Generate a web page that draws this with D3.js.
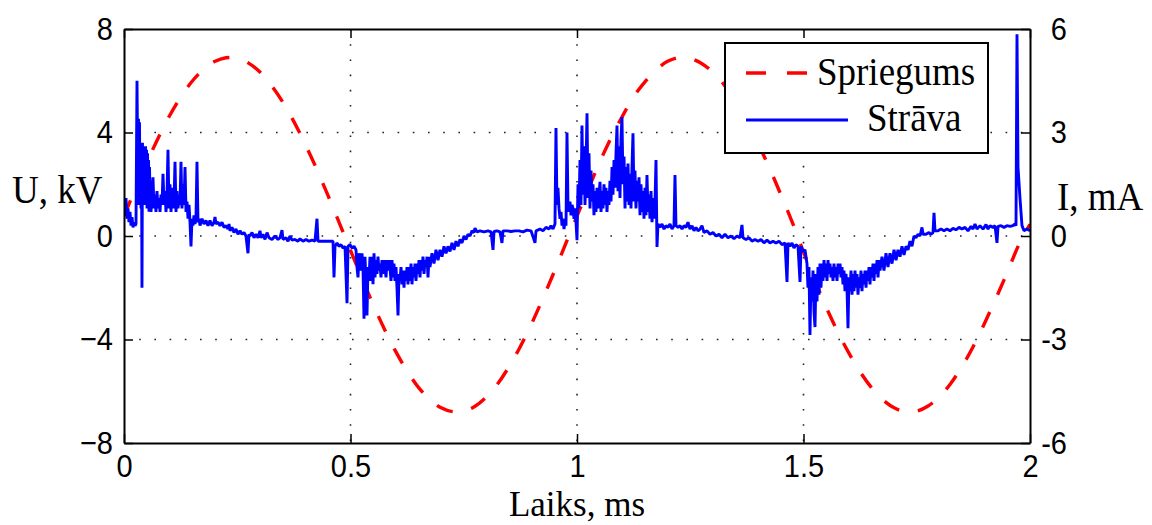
<!DOCTYPE html>
<html><head><meta charset="utf-8">
<script src="https://cdn.jsdelivr.net/npm/d3@7"></script>
<style>body{margin:0;background:#fff}svg{display:block}</style>
</head><body><svg id="c" width="1152" height="525"></svg>
<script>
// ---- data ----
const timeTicks = [0, 0.5, 1, 1.5, 2];
const voltageTicks = [-8, -4, 0, 4, 8];
const currentTicks = [-6, -3, 0, 3, 6];
const seriesNames = ["Spriegums", "Strāva"];
const xTitle = "Laiks, ms";
const leftTitle = "U, kV";
const rightTitle = "I, mA";

// voltage (kV) sampled every 0.025 ms
const voltageTime = [0,0.025,0.05,0.075,0.1,0.125,0.15,0.175,0.2,0.225,0.25,0.275,0.3,0.325,0.35,0.375,0.4,0.425,0.45,0.475,
0.5,0.525,0.55,0.575,0.6,0.625,0.65,0.675,0.7,0.725,0.75,0.775,0.8,0.825,0.85,0.875,0.9,0.925,0.95,0.975,
1.0,1.025,1.05,1.075,1.1,1.125,1.15,1.175,1.2,1.225,1.25,1.275,1.3,1.325,1.35,1.375,1.4,1.425,1.45,1.475,
1.5,1.525,1.55,1.575,1.6,1.625,1.65,1.675,1.7,1.725,1.75,1.775,1.8,1.825,1.85,1.875,1.9,1.925,1.95,1.975,2.0];
const voltageKV = [0.77,1.82,2.83,3.77,4.63,5.36,5.97,6.43,6.74,6.89,6.87,6.68,6.34,5.83,5.19,4.42,3.55,2.6,1.58,0.52,
-0.56,-1.62,-2.65,-3.6,-4.47,-5.22,-5.85,-6.32,-6.64,-6.79,-6.77,-6.58,-6.22,-5.71,-5.05,-4.27,-3.38,-2.4,-1.37,-0.3,
0.77,1.82,2.85,3.78,4.62,5.38,5.96,6.42,6.75,6.9,6.86,6.67,6.33,5.84,5.2,4.43,3.56,2.62,1.6,0.54,
-0.62,-1.7,-2.75,-3.68,-4.52,-5.25,-5.86,-6.33,-6.64,-6.79,-6.77,-6.57,-6.21,-5.7,-5.04,-4.26,-3.36,-2.4,-1.4,-0.35,0.45];

// current samples: [time ms, current mA]
const currentSamples = [
[0,1.0],[0.0022,0.6],[0.0044,1.1],[0.0066,0.5],[0.0088,0.8],[0.0110,0.4],[0.0132,0.7],[0.0155,0.3],[0.0177,0.55],[0.0199,0.25],
[0.0221,0.4],[0.0243,0.3],[0.0265,0.35],[0.0287,4.5],[0.0309,1.2],[0.0320,3.4],[0.0331,0.9],[0.0342,3.3],[0.0353,1.2],[0.0364,2.6],
[0.0375,0.8],[0.0386,2.5],[0.0397,-1.5],[0.0408,2.7],[0.0419,1.0],[0.0430,2.6],[0.0442,1.1],[0.0453,2.5],[0.0464,0.9],[0.0475,2.6],
[0.0486,1.2],[0.0497,2.5],[0.0508,0.8],[0.0519,2.4],[0.0530,1.0],[0.0541,2.2],[0.0552,0.7],[0.0563,2.0],[0.0574,1.2],[0.0596,0.7],
[0.0618,1.3],[0.0640,1.7],[0.0662,0.8],[0.0684,1.2],[0.0706,0.7],[0.0728,1.3],[0.0751,0.8],[0.0773,1.1],[0.0795,0.7],[0.0817,1.2],
[0.0839,0.9],[0.0861,1.8],[0.0883,0.9],[0.0905,1.3],[0.0927,0.7],[0.0949,1.2],[0.0971,2.5],[0.0993,0.8],[0.1015,1.5],[0.1038,0.7],
[0.1060,1.4],[0.1082,0.8],[0.1104,1.0],[0.1126,2.15],[0.1148,0.7],[0.1170,1.3],[0.1192,0.8],[0.1214,1.1],[0.1236,0.9],[0.1258,2.15],
[0.1280,0.8],[0.1302,1.5],[0.1325,0.9],[0.1347,2.0],[0.1369,0.7],[0.1391,1.0],[0.1413,0.5],[0.1435,0.9],[0.1457,0.4],[0.1479,-0.3],
[0.1501,0.5],[0.1523,0.3],[0.1545,0.6],[0.1567,0.35],[0.1589,0.5],[0.1611,2.15],[0.1634,0.4],[0.1656,0.5],[0.1678,0.3],[0.1722,0.5],
[0.1766,0.35],[0.1810,0.45],[0.1854,0.3],[0.1898,0.45],[0.1943,0.3],[0.1987,0.4],[0.2009,0.55],[0.2031,0.35],[0.2075,0.4],[0.2119,0.3],
[0.2163,0.4],[0.2208,0.25],[0.2252,0.3],[0.2296,0.2],[0.2318,0.35],[0.2340,0.15],[0.2384,0.25],[0.2428,0.1],[0.2472,0.2],[0.2517,0.05],
[0.2561,0.15],[0.2605,0.05],[0.2649,0.1],[0.2693,0.0],[0.2737,-0.5],[0.2759,0.05],[0.2781,0.0],[0.2826,0.1],[0.2870,-0.05],[0.2914,0.05],
[0.2958,-0.05],[0.3002,0.15],[0.3024,-0.05],[0.3068,0.05],[0.3113,-0.1],[0.3157,0.1],[0.3201,-0.05],[0.3267,-0.1],[0.3333,0.0],[0.3400,-0.1],
[0.3444,-0.05],[0.3488,0.17],[0.3510,-0.1],[0.3576,-0.05],[0.3620,-0.15],[0.3664,0.0],[0.3709,-0.12],[0.3775,-0.1],[0.3841,-0.15],[0.3885,-0.08],
[0.3951,-0.15],[0.4018,-0.1],[0.4084,-0.15],[0.4150,-0.12],[0.4216,-0.15],[0.4260,0.5],[0.4283,-0.15],[0.4371,-0.15],[0.4459,-0.15],[0.4547,-0.15],
[0.4614,-0.15],[0.4636,-1.2],[0.4658,-0.3],[0.4702,-0.2],[0.4746,-0.3],[0.4790,-0.25],[0.4834,-0.35],[0.4879,-0.3],[0.4923,-1.95],[0.4945,-0.3],
[0.4989,-0.25],[0.5033,-0.35],[0.5077,-0.3],[0.5121,-0.4],[0.5143,-0.9],[0.5166,-1.2],[0.5188,-0.5],[0.5210,-0.7],[0.5232,-1.0],[0.5254,-0.5],
[0.5276,-0.9],[0.5298,-2.4],[0.5320,-0.6],[0.5342,-1.4],[0.5364,-2.3],[0.5386,-0.9],[0.5408,-1.3],[0.5430,-0.6],[0.5453,-1.3],[0.5475,-0.6],
[0.5497,-1.4],[0.5519,-0.5],[0.5541,-1.2],[0.5563,-0.7],[0.5585,-1.1],[0.5607,-0.6],[0.5629,-1.0],[0.5651,-0.8],[0.5673,-1.2],[0.5695,-0.7],
[0.5717,-1.1],[0.5740,-0.7],[0.5762,-0.9],[0.5784,-1.2],[0.5806,-0.7],[0.5828,-1.0],[0.5850,-0.7],[0.5872,-0.9],[0.5894,-1.3],[0.5916,-0.7],
[0.5938,-1.2],[0.5960,-0.8],[0.5982,-1.3],[0.6004,-0.9],[0.6026,-1.5],[0.6049,-2.3],[0.6071,-1.1],[0.6093,-1.3],[0.6115,-0.9],[0.6137,-1.4],
[0.6159,-1.0],[0.6181,-1.5],[0.6203,-1.0],[0.6225,-1.3],[0.6247,-0.9],[0.6269,-1.4],[0.6291,-0.9],[0.6313,-1.3],[0.6336,-0.8],[0.6358,-1.4],
[0.6380,-0.9],[0.6402,-1.2],[0.6424,-0.8],[0.6446,-1.3],[0.6468,-0.8],[0.6490,-1.1],[0.6512,-0.7],[0.6534,-1.2],[0.6556,-0.7],[0.6578,-1.0],
[0.6600,-0.6],[0.6623,-1.1],[0.6645,-0.7],[0.6667,-0.9],[0.6689,-0.6],[0.6711,-1.2],[0.6733,-0.6],[0.6755,-0.9],[0.6799,-0.5],[0.6843,-0.8],
[0.6887,-0.4],[0.6932,-0.7],[0.6976,-0.4],[0.7020,-0.6],[0.7064,-0.3],[0.7108,-0.5],[0.7152,-0.3],[0.7196,-0.45],[0.7241,-0.2],[0.7285,-0.4],
[0.7329,-0.15],[0.7373,-0.3],[0.7417,-0.1],[0.7461,-0.2],[0.7506,0.0],[0.7550,-0.1],[0.7594,0.05],[0.7638,0.0],[0.7682,0.15],[0.7726,0.1],
[0.7748,0.23],[0.7792,0.12],[0.7859,0.15],[0.7947,0.12],[0.8035,0.15],[0.8102,0.12],[0.8146,-0.4],[0.8168,0.13],[0.8234,0.15],[0.8300,0.12],
[0.8344,-0.2],[0.8366,0.15],[0.8455,0.15],[0.8543,0.13],[0.8631,0.15],[0.8720,0.15],[0.8808,0.12],[0.8896,0.17],[0.8985,0.15],[0.9073,-0.2],
[0.9095,0.15],[0.9183,0.2],[0.9249,0.15],[0.9316,0.25],[0.9382,0.2],[0.9426,0.3],[0.9470,0.2],[0.9514,0.35],[0.9536,3.13],[0.9558,0.9],
[0.9580,1.4],[0.9603,0.8],[0.9625,0.5],[0.9647,0.7],[0.9669,0.3],[0.9691,0.5],[0.9713,0.2],[0.9735,0.4],[0.9757,0.3],[0.9779,3.0],
[0.9801,0.9],[0.9823,0.7],[0.9845,1.0],[0.9868,0.6],[0.9890,0.9],[0.9912,0.8],[0.9934,0.5],[0.9956,0.8],[0.9978,0.4],[1.0000,-0.12],
[1.0022,1.5],[1.0044,0.8],[1.0066,2.2],[1.0088,0.9],[1.0110,3.2],[1.0132,1.2],[1.0155,2.6],[1.0177,0.9],[1.0199,2.0],[1.0221,3.56],
[1.0243,1.1],[1.0265,2.4],[1.0287,0.8],[1.0309,1.9],[1.0331,1.0],[1.0353,1.5],[1.0375,0.6],[1.0397,1.3],[1.0419,0.7],[1.0442,1.4],
[1.0464,0.8],[1.0486,1.2],[1.0508,1.57],[1.0530,0.7],[1.0552,1.3],[1.0574,0.8],[1.0596,1.5],[1.0618,0.9],[1.0640,1.4],[1.0662,0.7],
[1.0684,1.3],[1.0706,0.9],[1.0728,1.6],[1.0751,1.0],[1.0773,2.0],[1.0795,1.2],[1.0817,2.2],[1.0839,1.4],[1.0861,2.4],[1.0883,3.2],
[1.0905,1.3],[1.0927,2.6],[1.0949,1.1],[1.0971,2.8],[1.0993,3.45],[1.1015,1.5],[1.1038,2.3],[1.1060,0.8],[1.1082,2.0],[1.1104,1.0],
[1.1126,2.1],[1.1148,0.9],[1.1170,1.8],[1.1192,0.8],[1.1214,2.0],[1.1236,2.98],[1.1258,1.0],[1.1280,1.9],[1.1302,0.8],[1.1325,1.6],
[1.1347,1.0],[1.1369,1.7],[1.1391,0.6],[1.1413,1.5],[1.1435,0.7],[1.1457,1.3],[1.1479,0.5],[1.1501,1.4],[1.1523,0.6],[1.1545,1.77],
[1.1567,0.7],[1.1589,1.2],[1.1611,0.5],[1.1634,1.3],[1.1656,0.4],[1.1678,1.1],[1.1700,0.5],[1.1722,1.0],[1.1744,2.2],[1.1766,-0.32],
[1.1788,0.35],[1.1832,0.25],[1.1876,0.35],[1.1921,0.2],[1.1965,0.3],[1.2009,0.25],[1.2053,0.35],[1.2097,0.2],[1.2141,0.3],[1.2163,1.77],
[1.2185,0.3],[1.2230,0.25],[1.2274,0.3],[1.2318,0.2],[1.2362,0.3],[1.2406,0.25],[1.2450,0.4],[1.2494,0.2],[1.2539,0.3],[1.2583,0.15],
[1.2627,0.25],[1.2671,0.15],[1.2715,0.2],[1.2759,0.3],[1.2804,0.1],[1.2870,0.15],[1.2936,0.05],[1.3002,0.1],[1.3068,0.0],[1.3135,0.05],
[1.3201,-0.05],[1.3267,0.05],[1.3333,-0.05],[1.3400,0.0],[1.3466,-0.08],[1.3532,0.0],[1.3598,-0.05],[1.3642,0.32],[1.3664,-0.05],[1.3731,-0.1],
[1.3797,-0.05],[1.3863,-0.15],[1.3929,-0.1],[1.3996,-0.15],[1.4062,-0.1],[1.4128,-0.2],[1.4194,-0.12],[1.4260,-0.2],[1.4327,-0.15],[1.4393,-0.2],
[1.4459,-0.15],[1.4525,-0.25],[1.4592,-0.2],[1.4636,-1.33],[1.4658,-0.2],[1.4702,-0.3],[1.4746,-0.2],[1.4790,-0.35],[1.4834,-0.25],[1.4879,-0.3],
[1.4923,-1.33],[1.4945,-0.3],[1.4989,-0.45],[1.5033,-0.4],[1.5077,-0.8],[1.5099,-1.5],[1.5121,-0.9],[1.5143,-2.87],[1.5166,-1.2],[1.5188,-1.9],
[1.5210,-1.0],[1.5232,-2.2],[1.5254,-2.64],[1.5276,-1.1],[1.5298,-1.9],[1.5320,-0.9],[1.5342,-1.7],[1.5364,-0.8],[1.5386,-1.5],[1.5408,-0.8],
[1.5430,-1.3],[1.5453,-0.7],[1.5475,-1.2],[1.5497,-0.8],[1.5519,-1.3],[1.5541,-0.7],[1.5563,-1.1],[1.5585,-0.8],[1.5607,-1.2],[1.5629,-0.9],
[1.5651,-1.3],[1.5673,-0.8],[1.5695,-1.2],[1.5717,-0.9],[1.5740,-1.3],[1.5762,-0.8],[1.5784,-1.1],[1.5806,-0.8],[1.5828,-1.2],[1.5850,-0.9],
[1.5872,-1.4],[1.5894,-1.0],[1.5916,-1.6],[1.5938,-1.1],[1.5960,-1.5],[1.5982,-2.67],[1.6004,-1.2],[1.6026,-1.6],[1.6049,-1.0],[1.6071,-1.7],
[1.6093,-1.1],[1.6115,-1.6],[1.6137,-1.0],[1.6159,-1.5],[1.6181,-1.1],[1.6203,-1.7],[1.6225,-1.2],[1.6247,-1.5],[1.6269,-1.0],[1.6291,-1.6],
[1.6313,-1.1],[1.6336,-1.4],[1.6358,-1.0],[1.6380,-1.5],[1.6402,-1.0],[1.6424,-1.3],[1.6446,-0.9],[1.6468,-1.4],[1.6490,-0.9],[1.6512,-1.2],
[1.6534,-0.8],[1.6556,-1.3],[1.6578,-0.8],[1.6600,-1.1],[1.6623,-0.7],[1.6645,-1.2],[1.6667,-0.7],[1.6689,-1.0],[1.6733,-0.6],[1.6777,-1.0],
[1.6821,-0.5],[1.6865,-0.9],[1.6909,-0.5],[1.6954,-0.8],[1.6998,-0.4],[1.7042,-0.7],[1.7086,-0.4],[1.7130,-0.6],[1.7174,-0.3],[1.7219,-0.55],
[1.7263,-0.3],[1.7307,-0.4],[1.7351,-0.15],[1.7395,-0.3],[1.7439,0.0],[1.7483,-0.05],[1.7528,0.05],[1.7572,0.0],[1.7616,0.25],[1.7638,0.05],
[1.7704,0.05],[1.7770,0.1],[1.7815,0.05],[1.7859,0.1],[1.7881,0.67],[1.7903,0.15],[1.7969,0.15],[1.8035,0.2],[1.8102,0.15],[1.8168,0.2],
[1.8234,0.15],[1.8300,0.22],[1.8366,0.18],[1.8433,0.25],[1.8499,0.2],[1.8565,0.25],[1.8631,0.15],[1.8698,0.28],[1.8742,0.2],[1.8786,0.35],
[1.8830,0.2],[1.8896,0.3],[1.8962,0.2],[1.9029,0.33],[1.9073,0.2],[1.9117,0.3],[1.9183,0.25],[1.9227,0.3],[1.9271,-0.2],[1.9294,0.28],
[1.9360,0.3],[1.9426,0.25],[1.9492,0.3],[1.9558,0.28],[1.9625,0.3],[1.9669,0.35],[1.9691,0.3],[1.9713,5.85],[1.9735,2.0],[1.9779,1.1],
[1.9823,0.3],[1.9868,0.15],[1.9934,0.2],[2.0000,0.15]
];

// ---- drawing ----
const W = 1152, H = 525;
const m = {l:124, r:1030, t:29, b:443};
const svg = d3.select("#c");
const x = d3.scaleLinear().domain([0, 2]).range([m.l, m.r]);
const yU = d3.scaleLinear().domain([-8, 8]).range([m.b, m.t]);
const yI = d3.scaleLinear().domain([-6, 6]).range([m.b, m.t]);
const SANS = "'Liberation Sans', Arial, sans-serif";
const SERIF = "'Liberation Serif', 'Times New Roman', serif";
const fmt = d3.format("~g");
const fmtShortMinus = d3.formatLocale({decimal: ".", thousands: ",", grouping: [3], currency: ["", ""], minus: "-"}).format("~g");
const SY = 1.1; // vertical stretch of the reference's text

svg.append("rect").attr("width", W).attr("height", H).attr("fill", "#fff");
svg.append("defs").append("clipPath").attr("id", "clip")
  .append("rect").attr("x", m.l).attr("y", m.t).attr("width", m.r - m.l).attr("height", m.b - m.t);

// grid (dotted)
const grid = svg.append("g").attr("stroke", "#222").attr("stroke-width", 1.6).attr("stroke-dasharray", "1.6,13.6");
grid.selectAll("line.v").data(timeTicks.filter(t => t > 0 && t < 2)).join("line").attr("class", "v")
  .attr("x1", d => x(d)).attr("x2", d => x(d)).attr("y1", m.t).attr("y2", m.b);
grid.selectAll("line.h").data(voltageTicks.filter(v => v > -8 && v < 8)).join("line").attr("class", "h")
  .attr("y1", d => yU(d)).attr("y2", d => yU(d)).attr("x1", m.l).attr("x2", m.r);

// series
const plot = svg.append("g").attr("clip-path", "url(#clip)");
const voltagePts = voltageTime.map((t, i) => [t, voltageKV[i]]);
plot.append("path").datum(voltagePts)
  .attr("d", d3.line().x(d => x(d[0])).y(d => yU(d[1])).curve(d3.curveCatmullRom))
  .attr("fill", "none").attr("stroke", "#ff0000").attr("stroke-width", 3.4)
  .attr("stroke-dasharray", "17,19");
plot.append("path").datum(currentSamples)
  .attr("d", d3.line().x(d => x(d[0])).y(d => yI(d[1])))
  .attr("fill", "none").attr("stroke", "#0000ff").attr("stroke-width", 2.9)
  .attr("stroke-linejoin", "bevel");

// axes
function styleAxis(g) {
  g.attr("font-family", SANS).attr("font-size", 29);
  g.select(".domain").attr("stroke", "#000").attr("stroke-width", 2);
  g.selectAll(".tick line").attr("stroke", "#000").attr("stroke-width", 1.5);
  g.selectAll(".tick text").attr("fill", "#000");
}
const axL = svg.append("g").attr("transform", `translate(${m.l},0)`)
  .call(d3.axisLeft(yU).tickValues(voltageTicks).tickSize(-9).tickSizeOuter(0).tickPadding(11).tickFormat(fmt))
  .call(styleAxis);
axL.selectAll(".tick text").attr("transform", `scale(1,${SY})`);
const axB = svg.append("g").attr("transform", `translate(0,${m.b})`)
  .call(d3.axisBottom(x).tickValues(timeTicks).tickSize(-9).tickSizeOuter(0).tickPadding(13).tickFormat(fmt))
  .call(styleAxis);
axB.selectAll(".tick text").attr("dy", null).attr("y", 34 / SY).attr("transform", `scale(1,${SY})`);
svg.append("g").attr("transform", `translate(0,${m.t})`)
  .call(d3.axisTop(x).tickValues(timeTicks).tickSize(-9).tickSizeOuter(0).tickFormat(""))
  .call(styleAxis);
const axR = svg.append("g").attr("transform", `translate(${m.r},0)`)
  .call(d3.axisRight(yI).tickValues(currentTicks).tickSize(-9).tickSizeOuter(0).tickPadding(10).tickFormat(fmtShortMinus))
  .call(styleAxis);
axR.selectAll(".tick text").attr("text-anchor", "end").attr("x", 37).attr("transform", `scale(1,${SY})`);

// serif labels, slightly stretched vertically like the reference
function serifText(parent, str, px, py, opts) {
  const o = Object.assign({anchor: "start", size: 37, sy: SY}, opts || {});
  return parent.append("text").text(str)
    .attr("transform", `translate(${px},${py}) scale(1,${o.sy})`)
    .attr("text-anchor", o.anchor)
    .attr("font-family", SERIF).attr("font-size", o.size).attr("fill", "#000");
}
serifText(svg, leftTitle, 12, 203);
serifText(svg, rightTitle, 1057, 210);
serifText(svg, xTitle, (m.l + m.r) / 2, 516, {anchor: "middle", size: 35, sy: 1.05});

// legend
const lg = svg.append("g");
lg.append("rect").attr("x", 725).attr("y", 43).attr("width", 263).attr("height", 110)
  .attr("fill", "#fff").attr("stroke", "#000").attr("stroke-width", 2);
lg.append("line").attr("x1", 746).attr("x2", 808).attr("y1", 73).attr("y2", 73)
  .attr("stroke", "#ff0000").attr("stroke-width", 3.4).attr("stroke-dasharray", "20,21");
lg.append("line").attr("x1", 746).attr("x2", 848).attr("y1", 120).attr("y2", 120)
  .attr("stroke", "#0000ff").attr("stroke-width", 2.9);
serifText(lg, seriesNames[0], 817, 85);
serifText(lg, seriesNames[1], 867, 131);
</script></body></html>
